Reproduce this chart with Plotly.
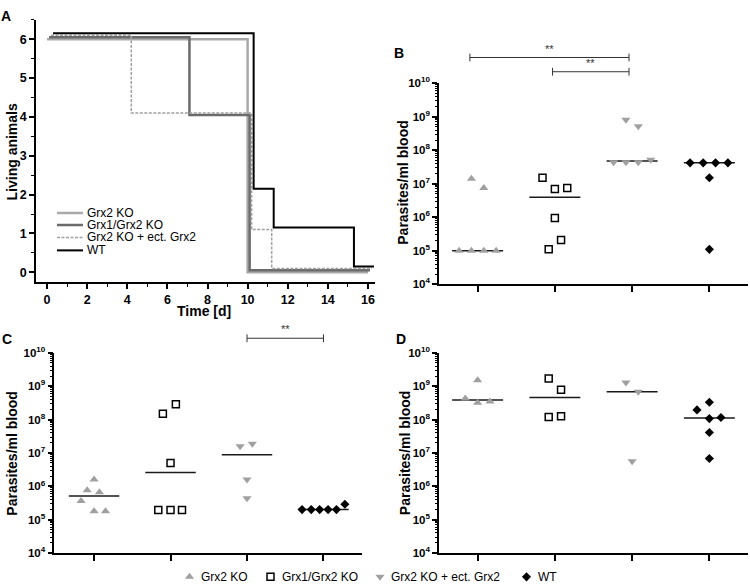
import numpy as np
import plotly.graph_objects as go

FONT = "Arial, Liberation Sans, sans-serif"

# ---------------- Panel A: survival ----------------
groups = ["Grx2 KO", "Grx1/Grx2 KO", "Grx2 KO + ect. Grx2", "WT"]
time_grx2ko = [0, 10, 16]
alive_grx2ko = [6, 0, 0]
time_grx1 = [0, 7, 10, 16]
alive_grx1 = [6, 4, 0, 0]
time_ect = [0, 4, 10, 11, 16]
alive_ect = [6, 4, 1, 0, 0]
time_wt = [0, 10, 11, 15, 16]
alive_wt = [6, 2, 1, 0, 0]

# ---------------- Panels B-D: parasitemia ----------------
b_grx2ko = [1e5, 1e5, 1e5, 1e5, 1.4e7, 7.5e6]
b_grx1 = [1.5e7, 7e6, 7.5e6, 9.5e5, 2.1e5, 1.1e5]
b_ect = [8.1e8, 5.2e8, 4.4e7, 4.4e7, 4.4e7, 5.2e7]
b_wt = [4.2e7, 4.2e7, 4.2e7, 4.2e7, 1.5e7, 1.1e5]

c_grx2ko = [1.6e6, 7.6e5, 6.6e5, 3.6e5, 1.8e5, 1.8e5]
c_grx1 = [1.5e8, 2.9e8, 5e6, 1.95e5, 1.95e5, 1.95e5]
c_ect = [1.6e7, 1.9e7, 1.6e6, 4.4e5]
c_wt = [2e5, 2e5, 2e5, 2e5, 2e5, 2.9e5]

d_grx2ko = [1.5e9, 4.3e8, 3.2e8, 3.5e8]
d_grx1 = [1.7e9, 7.9e8, 1.2e8, 1.25e8]
d_ect = [1.3e9, 6.8e8, 5.6e6]
d_wt = [3.3e8, 1.95e8, 1.07e8, 1.15e8, 4.1e7, 6.8e6]

# horizontal scatter (jitter) offsets of the dots within each column
b_off = [[-0.24, -0.08, 0.08, 0.24, -0.08, 0.08],
         [-0.16, 0, 0.16, 0, 0.08, -0.08],
         [-0.08, 0.08, -0.24, -0.08, 0.08, 0.24],
         [-0.25, -0.08, 0.08, 0.24, 0, 0]]
c_off = [[0, -0.09, 0.07, -0.17, 0, 0.15],
         [-0.1, 0.07, 0, -0.16, 0, 0.15],
         [-0.09, 0.07, 0, 0],
         [-0.28, -0.16, -0.05, 0.06, 0.17, 0.28]]
d_off = [[0, -0.16, 0, 0.16],
         [-0.08, 0.08, -0.08, 0.08],
         [-0.08, 0.08, 0],
         [0, -0.16, 0, 0.15, 0, 0]]

W, H = 750, 588
def px(x):
    return x / W
def py(y):
    return 1 - y / H

fig = go.Figure()

# ---- survival curves ----
surv = [(time_grx2ko, alive_grx2ko), (time_grx1, alive_grx1),
        (time_ect, alive_ect), (time_wt, alive_wt)]
surv_style = [dict(color="#a9a9a9", width=2.5),
              dict(color="#6b6b6b", width=2.5),
              dict(color="#a0a0a0", width=1.5, dash="3px,1.5px"),
              dict(color="#000000", width=2)]
shift_x = [0, 0.1, 0.2, 0.3]
shift_y = [0, 0.05, 0.1, 0.15]
for i, (t, a) in enumerate(surv):
    fig.add_trace(go.Scatter(
        x=[v + shift_x[i] for v in t], y=[v + shift_y[i] for v in a],
        mode="lines", line=dict(shape="hv", **surv_style[i]),
        showlegend=False, xaxis="x", yaxis="y", hoverinfo="skip"))

# ---- dot plots ----
marker_styles = [
    dict(symbol="triangle-up", size=8, color="#a0a0a0"),
    dict(symbol="square-open", size=7, color="#000000", line=dict(width=1.5, color="#000000")),
    dict(symbol="triangle-down", size=8, color="#a0a0a0"),
    dict(symbol="diamond", size=7, color="#000000"),
]
panels = [("x2", "y2", [b_grx2ko, b_grx1, b_ect, b_wt], b_off),
          ("x3", "y3", [c_grx2ko, c_grx1, c_ect, c_wt], c_off),
          ("x4", "y4", [d_grx2ko, d_grx1, d_ect, d_wt], d_off)]
for xa, ya, series, offs in panels:
    for g, (vals, off) in enumerate(zip(series, offs)):
        med = float(np.median(vals))
        fig.add_trace(go.Scatter(
            x=[g - 0.33, g + 0.33], y=[med, med], mode="lines",
            line=dict(color="#1a1a1a", width=1.5), showlegend=False,
            xaxis=xa, yaxis=ya, hoverinfo="skip"))
        fig.add_trace(go.Scatter(
            x=[g + o for o in off], y=vals, mode="markers",
            marker=marker_styles[g], name=groups[g], showlegend=False,
            xaxis=xa, yaxis=ya))

# ---- bottom key (strip axis in pixel units) ----
key_x = [189.5, 270.5, 380, 526.5]
key_y = 582.7
for g in range(4):
    fig.add_trace(go.Scatter(x=[key_x[g]], y=[key_y], mode="markers",
                             marker=marker_styles[g], showlegend=False,
                             xaxis="x5", yaxis="y5", hoverinfo="skip"))

# ---- axes ----
base = dict(showline=True, linecolor="black", linewidth=1.5, showgrid=False,
            zeroline=False, ticks="outside", tickcolor="black", tickwidth=1.5,
            mirror=False)
tick_font = dict(family=FONT, size=12.5, color="black")

layout_axes = {}
layout_axes["xaxis"] = dict(base, domain=[px(36), px(375)], range=[-0.55, 16.35],
                            anchor="y", tickmode="array",
                            tickvals=list(range(0, 17, 2)),
                            ticktext=["<b>%d</b>" % v for v in range(0, 17, 2)],
                            ticklen=5, tickfont=tick_font,
                            minor=dict(ticks="outside", dtick=1, tick0=0, ticklen=3,
                                       tickcolor="black", tickwidth=1.2))
layout_axes["yaxis"] = dict(base, domain=[py(280.7), py(12)], range=[-0.25, 6.5],
                            anchor="x", tickmode="array", tickvals=list(range(0, 7)),
                            ticktext=["<b>%d</b>" % v for v in range(0, 7)],
                            ticklen=5, tickfont=tick_font,
                            minor=dict(ticks="outside", dtick=0.5, tick0=0, ticklen=3,
                                       tickcolor="black", tickwidth=1.2))

log_major = [10.0 ** e for e in range(4, 11)]
log_text = ["<b>10<sup>%d</sup></b>" % e for e in range(4, 11)]
log_minor = [m * 10.0 ** e for e in range(4, 10) for m in range(2, 10)]
logfont = dict(family=FONT, size=11.5, color="black")

def log_axis(dom, anchor):
    return dict(base, type="log", domain=dom, range=[4, 10], anchor=anchor,
                tickmode="array", tickvals=log_major, ticktext=log_text,
                ticklen=5, tickfont=logfont,
                minor=dict(ticks="outside", tickmode="array", tickvals=log_minor,
                           ticklen=2.5, tickcolor="black", tickwidth=1))

def cat_axis(dom, rng, anchor):
    return dict(base, domain=dom, range=rng, anchor=anchor, tickvals=[0, 1, 2, 3],
                showticklabels=False, ticklen=6)

layout_axes["xaxis2"] = cat_axis([px(439), px(748)], [-0.5, 3.5], "y2")
layout_axes["yaxis2"] = log_axis([py(283), py(77)], "x2")
layout_axes["xaxis3"] = cat_axis([px(54.3), px(361.7)], [-0.52, 3.5], "y3")
layout_axes["yaxis3"] = log_axis([py(558.3), py(353.3)], "x3")
layout_axes["xaxis4"] = cat_axis([px(439), px(748)], [-0.5, 3.5], "y4")
layout_axes["yaxis4"] = log_axis([py(558.3), py(353.3)], "x4")
layout_axes["xaxis5"] = dict(domain=[0, 1], range=[0, W], visible=False, anchor="y5",
                             fixedrange=True)
layout_axes["yaxis5"] = dict(domain=[0, 21 / H], range=[H, H - 21], visible=False,
                             anchor="x5", fixedrange=True)

shapes = []
annotations = []

# ---- panel A legend (drawn manually) ----
leg_y = [210, 222.3, 235, 248.3]
for i, yy in enumerate(leg_y):
    st = surv_style[i]
    shapes.append(dict(type="line", xref="paper", yref="paper",
                       x0=px(57), x1=px(83), y0=py(yy), y1=py(yy),
                       line=dict(color=st["color"], width=st["width"],
                                 dash="3px,1.5px" if "dash" in st else "solid")))
    annotations.append(dict(text=groups[i], xref="paper", yref="paper",
                            x=px(85), y=py(yy), xanchor="left", yanchor="middle",
                            showarrow=False, font=dict(family=FONT, size=12, color="black")))

# ---- bottom key labels ----
for g in range(4):
    annotations.append(dict(text=groups[g], xref="paper", yref="paper",
                            x=px(key_x[g] + 9), y=py(key_y), xanchor="left",
                            yanchor="middle", showarrow=False,
                            font=dict(family=FONT, size=12, color="black")))

# ---- significance brackets ----
def bracket(xa, x0, x1, ypix):
    shapes.append(dict(type="line", xref=xa, yref="paper", x0=x0, x1=x1,
                       y0=py(ypix), y1=py(ypix), line=dict(color="#333333", width=1)))
    for xx in (x0, x1):
        shapes.append(dict(type="line", xref=xa, yref="paper", x0=xx, x1=xx,
                           y0=py(ypix - 4), y1=py(ypix + 4),
                           line=dict(color="#333333", width=1)))
    annotations.append(dict(text="**", xref=xa, yref="paper", x=(x0 + x1) / 2,
                            y=py(ypix - 1), xanchor="center", yanchor="bottom",
                            showarrow=False,
                            font=dict(family=FONT, size=11, color="#333333")))

bracket("x2", -0.1, 1.96, 50.7)
bracket("x2", 0.97, 1.96, 65.3)
bracket("x3", 2.0, 3.0, 338.3)

# ---- panel letters & axis titles ----
def txt(s, x, y, size=14, angle=0):
    annotations.append(dict(text="<b>%s</b>" % s, xref="paper", yref="paper",
                            x=px(x), y=py(y),
                            xanchor="center", yanchor="middle", showarrow=False,
                            textangle=angle,
                            font=dict(family=FONT, size=size, color="black")))

txt("A", 6, 8, 14)
txt("B", 398.5, 45.7, 14)
txt("C", 7, 339.3, 14)
txt("D", 401, 339.3, 14)
txt("Living animals", 12, 148, 14, -90)
txt("Time [d]", 204, 310.5, 14)
txt("Parasites/ml blood", 403, 179, 14, -90)
txt("Parasites/ml blood", 12, 456.5, 14, -90)
txt("Parasites/ml blood", 405, 456, 14, -90)

fig.update_layout(
    width=W, height=H, margin=dict(l=0, r=0, t=0, b=0),
    paper_bgcolor="white", plot_bgcolor="white",
    font=dict(family=FONT, size=12, color="black"),
    showlegend=False,
    shapes=shapes, annotations=annotations,
    **layout_axes)

fig.write_html("out.html", config={"displayModeBar": False},
               post_script="document.body.style.margin='0';"
                           "document.body.style.overflow='hidden';")
